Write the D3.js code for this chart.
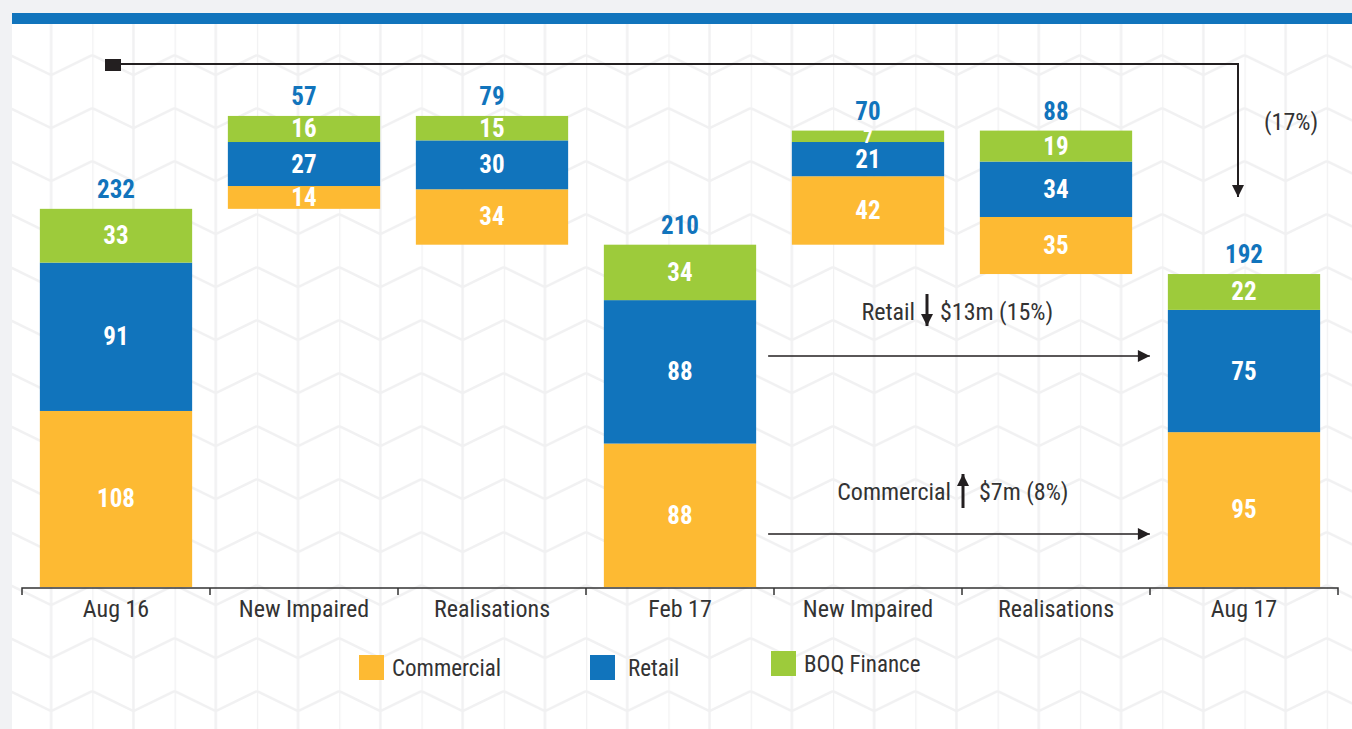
<!DOCTYPE html>
<html>
<head>
<meta charset="utf-8">
<script src="https://cdn.jsdelivr.net/npm/d3@7"></script>
<style>
  html, body { margin: 0; padding: 0; background: #f1f2f4; }
  svg { display: block; }
</style>
</head>
<body>
<script>
// categories + stacked segments (in $m)
const categories = ["Aug 16", "New Impaired", "Realisations", "Feb 17", "New Impaired", "Realisations", "Aug 17"];
const barKind = ["total", "increase", "decrease", "total", "increase", "decrease", "total"];
const commercial = [108, 14, 34, 88, 42, 35, 95];
const retail = [91, 27, 30, 88, 21, 34, 75];
const boqFinance = [33, 16, 15, 34, 7, 19, 22];
const totals = [232, 57, 79, 210, 70, 88, 192];

const seriesNames = ["Commercial", "Retail", "BOQ Finance"];
const seriesColors = ["#fdba33", "#1174bc", "#9dcb3b"];

// annotation text
const overallChange = "(17%)";
const retailNote = ["Retail", "$13m (15%)"];
const commercialNote = ["Commercial", "$7m (8%)"];

const width = 1352;
const height = 729;
const marginLeft = 22;
const marginRight = 14;
const baseY = 587;
const FONT = '"Liberation Sans Narrow", "Arial Narrow", "Roboto Condensed", sans-serif';
const INK = "#231f20";

const svg = d3.select("body").append("svg")
	.attr("width", width)
	.attr("height", height)
	.style("font-family", FONT);

// background chevron pattern
const defs = svg.append("defs");
const pat = defs.append("pattern")
	.attr("id", "chev")
	.attr("patternUnits", "userSpaceOnUse")
	.attr("x", 10).attr("y", 2)
	.attr("width", 82.3).attr("height", 53);
pat.append("path")
	.attr("d", "M0,0V53M41.15,0V53M0,0L41.15,20L82.3,0M0,53L41.15,73L82.3,53M0,-53L41.15,-33L82.3,-53")
	.attr("fill", "none")
	.attr("stroke", "#f1f1f2")
	.attr("stroke-width", 2.5);

svg.append("rect").attr("x", 12).attr("y", 13).attr("width", width - 12).attr("height", height - 13).attr("fill", "#fff");
svg.append("rect").attr("x", 12).attr("y", 24).attr("width", width - 12).attr("height", height - 24).attr("fill", "url(#chev)");
svg.append("rect").attr("x", 12).attr("y", 13).attr("width", width - 12).attr("height", 11).attr("fill", "#1174bc");

// scales
const idx = d3.range(categories.length);
const x = d3.scaleBand(idx, [marginLeft, width - marginRight])
	.paddingInner(0.19)
	.paddingOuter(0.095);
const y = d3.scaleLinear([0, 300], [baseY, baseY - 300 * 1.63]);

// waterfall bases
let running = 0;
const bases = idx.map(i => {
	if (barKind[i] === "total") { running = totals[i]; return 0; }
	if (barKind[i] === "increase") { const b = running; running += totals[i]; return b; }
	running -= totals[i];
	return running;
});

const stack = idx.map(i => {
	const vals = [commercial[i], retail[i], boqFinance[i]];
	let acc = bases[i];
	return vals.map((v, s) => {
		const seg = { i, s, v, y0: acc, y1: acc + v };
		acc += v;
		return seg;
	});
});

// bars
const g = svg.append("g");
g.selectAll("rect.seg")
	.data(stack.flat())
	.join("rect")
	.attr("class", "seg")
	.attr("x", d => x(d.i))
	.attr("width", x.bandwidth())
	.attr("y", d => y(d.y1))
	.attr("height", d => y(d.y0) - y(d.y1))
	.attr("fill", d => seriesColors[d.s]);

const labelSize = d => Math.min(25, y(d.y0) - y(d.y1) + 7);
g.selectAll("text.seg")
	.data(stack.flat())
	.join("text")
	.attr("class", "seg")
	.attr("x", d => x(d.i) + x.bandwidth() / 2)
	.attr("y", d => (y(d.y0) + y(d.y1)) / 2 + labelSize(d) * 0.34)
	.attr("text-anchor", "middle")
	.attr("fill", "#fff")
	.attr("font-weight", "bold")
	.attr("font-size", labelSize)
	.text(d => d.v);

g.selectAll("text.total")
	.data(idx)
	.join("text")
	.attr("class", "total")
	.attr("x", i => x(i) + x.bandwidth() / 2)
	.attr("y", i => y(bases[i] + totals[i]) - 11)
	.attr("text-anchor", "middle")
	.attr("fill", "#1174bc")
	.attr("font-weight", "bold")
	.attr("font-size", 25)
	.text(i => totals[i]);

// x axis
const axis = svg.append("g")
	.attr("transform", `translate(0,${baseY + 1})`)
	.call(d3.axisBottom(x).tickSize(0).tickPadding(12).tickFormat(i => categories[i]))
	.call(a => a.select(".domain").remove());
axis.selectAll("text")
	.attr("font-family", FONT)
	.attr("font-size", 24)
	.attr("fill", "#333");
const bounds = idx.map(i => x(i) - x.step() * x.paddingInner() / 2).concat([width - marginRight]);
axis.append("path")
	.attr("d", `M${bounds[0]},7V0H${bounds[bounds.length - 1]}V7`)
	.attr("fill", "none")
	.attr("stroke", "#333")
	.attr("stroke-width", 1.5);
axis.selectAll("line.bound")
	.data(bounds.slice(1, -1))
	.join("line")
	.attr("class", "bound")
	.attr("x1", d => d).attr("x2", d => d)
	.attr("y1", 0).attr("y2", 7)
	.attr("stroke", "#333")
	.attr("stroke-width", 1.5);

// arrowhead
defs.append("marker")
	.attr("id", "head")
	.attr("viewBox", "0 0 10 10")
	.attr("refX", 10).attr("refY", 5)
	.attr("markerUnits", "userSpaceOnUse")
	.attr("markerWidth", 18).attr("markerHeight", 12)
	.attr("orient", "auto")
	.append("path")
	.attr("d", "M0,0L10,5L0,10Z")
	.attr("fill", INK);

// overall change connector Aug 16 -> Aug 17
const first = 0, last = categories.length - 1;
const x0 = x(first) + x.bandwidth() / 2 - 3;
const x1 = x(last) + x.bandwidth() / 2 - 6;
const topY = 64;
svg.append("rect")
	.attr("x", x0 - 8).attr("y", topY - 5)
	.attr("width", 16).attr("height", 12)
	.attr("fill", INK);
svg.append("path")
	.attr("d", `M${x0},${topY}H${x1}V197`)
	.attr("fill", "none")
	.attr("stroke", INK)
	.attr("stroke-width", 2)
	.attr("marker-end", "url(#head)");
svg.append("text")
	.attr("x", x1 + 26)
	.attr("y", 130)
	.attr("font-size", 24)
	.attr("fill", "#333")
	.text(overallChange);

// segment change notes Feb 17 -> Aug 17
function changeNote(note, up, textY, lineY) {
	const fromX = x(3) + x.bandwidth() + 12;
	const toX = x(last) - 18;
	const mid = up ? 963 : 927;
	svg.append("text")
		.attr("x", mid - 12).attr("y", textY)
		.attr("text-anchor", "end")
		.attr("font-size", 24).attr("fill", "#333")
		.text(note[0]);
	svg.append("path")
		.attr("d", up ? `M${mid},${textY + 8}V${textY - 26}` : `M${mid},${textY - 26}V${textY + 6}`)
		.attr("stroke", INK)
		.attr("stroke-width", 3)
		.attr("marker-end", "url(#head)");
	svg.append("text")
		.attr("x", mid + (up ? 16 : 13)).attr("y", textY)
		.attr("font-size", 24).attr("fill", "#333")
		.text(note[1]);
	svg.append("line")
		.attr("x1", fromX).attr("x2", toX)
		.attr("y1", lineY).attr("y2", lineY)
		.attr("stroke", INK)
		.attr("stroke-width", 1.5)
		.attr("marker-end", "url(#head)");
}
changeNote(retailNote, false, 320, 356);
changeNote(commercialNote, true, 500, 534);

// legend
const legendX = [359, 590, 771];
const legendY = [655, 655, 651];
const legend = svg.append("g")
	.selectAll("g")
	.data(seriesNames)
	.join("g")
	.attr("transform", (d, i) => `translate(${legendX[i]},${legendY[i]})`);
legend.append("rect")
	.attr("width", 25).attr("height", 25)
	.attr("fill", (d, i) => seriesColors[i]);
legend.append("text")
	.attr("x", (d, i) => i === 1 ? 38 : 33)
	.attr("y", 21)
	.attr("font-size", 23)
	.attr("fill", "#333")
	.text(d => d);
</script>
</body>
</html>
